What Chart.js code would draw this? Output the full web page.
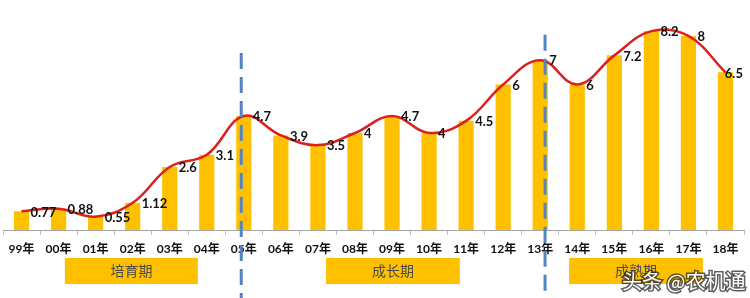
<!DOCTYPE html>
<html>
<head>
<meta charset="utf-8">
<script src="https://cdn.jsdelivr.net/npm/chart.js@4"></script>
<style>
  html, body { margin: 0; padding: 0; background: #fff; }
  #wrap { width: 750px; height: 298px; }
</style>
</head>
<body>
<div id="wrap"><canvas id="chart"></canvas></div>
<script>
const years = ["99年", "00年", "01年", "02年", "03年", "04年", "05年", "06年", "07年", "08年",
               "09年", "10年", "11年", "12年", "13年", "14年", "15年", "16年", "17年", "18年"];
const values = [0.77, 0.88, 0.55, 1.12, 2.6, 3.1, 4.7, 3.9, 3.5, 4, 4.7, 4, 4.5, 6, 7, 6, 7.2, 8.2, 8, 6.5];

// stage boxes under the axis, in category units
const phases = [
  { label: "培育期", from: 1.17, to: 4.76 },
  { label: "成长期", from: 8.22, to: 11.83 },
  { label: "成熟期", from: 14.78, to: 18.39 }
];
// dashed dividers: category position and the value where the dash starts
const dividers = [
  { at: 5.93, top: 7.3 },
  { at: 14.13, top: 8.05 }
];

const extras = {
  id: "extras",
  afterDatasetsDraw(chart) {
    const { ctx, scales: { x, y } } = chart;
    ctx.save();

    // dashed dividers
    ctx.strokeStyle = "#5585BE";
    ctx.lineWidth = 3;
    ctx.setLineDash([16, 8]);
    dividers.forEach(d => {
      const px = x.getPixelForValue(d.at);
      ctx.beginPath();
      ctx.moveTo(px, y.getPixelForValue(d.top));
      ctx.lineTo(px, chart.height);
      ctx.stroke();
    });
    ctx.setLineDash([]);

    // value labels to the right of each point
    const meta = chart.getDatasetMeta(1);
    ctx.font = 'bold 13px Lato, sans-serif';
    ctx.fillStyle = "#111";
    ctx.textBaseline = "middle";
    ctx.textAlign = "left";
    meta.data.forEach((pt, i) => {
      const txt = String(values[i]);
      let lx = pt.x + 9;
      const w = ctx.measureText(txt).width;
      if (lx + w > chart.width - 7) lx = chart.width - 7 - w;
      ctx.fillText(txt, lx, pt.y + 1);
    });

    // phase boxes
    phases.forEach(p => {
      const x0 = x.getPixelForValue(p.from);
      const x1 = x.getPixelForValue(p.to);
      ctx.fillStyle = "#FFC000";
      ctx.fillRect(x0, 258, x1 - x0, 26);
      ctx.fillStyle = "#4a4a4a";
      ctx.font = '14px "Noto Sans CJK SC", sans-serif';
      ctx.textAlign = "center";
      ctx.fillText(p.label, (x0 + x1) / 2, 271);
    });

    // watermark
    ctx.font = '20px "Noto Sans CJK SC", sans-serif';
    ctx.textAlign = "left";
    ctx.lineWidth = 3;
    ctx.strokeStyle = "rgba(40,40,40,0.75)";
    ctx.strokeText("头条 @农机通", 622, 281);
    ctx.fillStyle = "#fff";
    ctx.fillText("头条 @农机通", 622, 281);

    ctx.restore();
  }
};

new Chart(document.getElementById("chart"), {
  data: {
    labels: years,
    datasets: [
      {
        type: "bar",
        data: values,
        backgroundColor: "#FFC000",
        categoryPercentage: 1,
        barPercentage: 0.41,
        order: 2
      },
      {
        type: "line",
        data: values,
        borderColor: "#DC1F1F",
        borderWidth: 2.5,
        tension: 0.4,
        pointRadius: 0,
        clip: false,
        order: 1
      }
    ]
  },
  options: {
    responsive: true,
    maintainAspectRatio: false,
    animation: false,
    layout: { padding: { left: 3, right: 6, top: 2, bottom: 0 } },
    plugins: { legend: { display: false }, tooltip: { enabled: false } },
    scales: {
      x: {
        afterFit(scale) { scale.height = 68; },
        grid: { drawOnChartArea: false, drawTicks: true, tickLength: 5, color: "#BFBFBF" },
        border: { display: true, color: "#A6A6A6" },
        ticks: { color: "#111", font: { family: 'Lato, "Noto Sans CJK SC", sans-serif', size: 12, weight: "bold" }, padding: 7, maxRotation: 0, autoSkip: false }
      },
      y: { display: false, min: 0, max: 9.4 }
    }
  },
  plugins: [extras]
});
</script>
</body>
</html>
